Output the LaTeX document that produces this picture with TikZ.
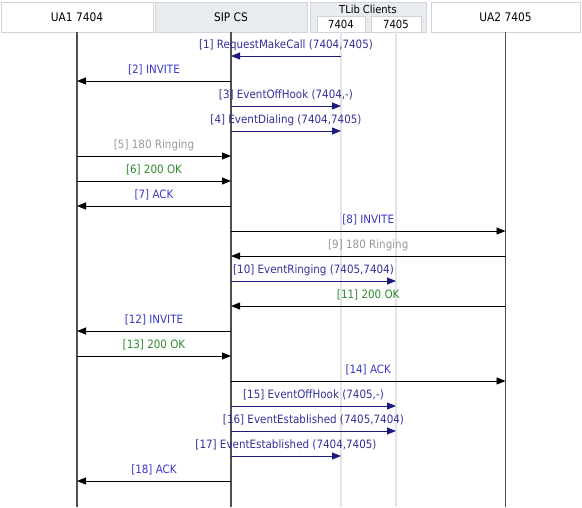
\documentclass[tikz,border=0pt]{standalone}
\usepackage{fontspec}
\setmainfont{DejaVu Sans}[FakeStretch=0.9]
\usetikzlibrary{arrows.meta}

\definecolor{boxline}{HTML}{D2D4D8}
\definecolor{sipfill}{HTML}{E8EBEF}
\definecolor{lifegray}{HTML}{505050}
\definecolor{tlibgray}{HTML}{E4E4E6}
\definecolor{evline}{HTML}{1C1C7E}
\definecolor{evtxt}{HTML}{30309C}
\definecolor{msgtxt}{HTML}{3838CC}
\definecolor{ringtxt}{HTML}{989898}
\definecolor{oktxt}{HTML}{2E8A2E}

\tikzset{
  hdr/.style={draw=boxline, minimum height=30pt, inner sep=0pt,
    font=\fontsize{11.8}{13}\selectfont},
  subhdr/.style={draw=boxline, fill=white, minimum height=16pt, inner sep=0pt,
    font=\fontsize{11.2}{12}\selectfont},
  life/.style={draw=lifegray, line width=1.1pt},
  tlife/.style={draw=tlibgray, line width=2pt},
  sipmsg/.style={draw=black, line width=0.8pt, -{Triangle[length=9pt,width=7pt]}},
  evmsg/.style={draw=evline, line width=0.8pt, -{Triangle[length=9pt,width=7pt]}},
  lbl/.style={above=4pt, inner sep=1pt, text height=9pt, text depth=2.5pt,
    font=\fontsize{11.5}{13}\selectfont},
}

\begin{document}
\begin{tikzpicture}[x=1pt, y=-1pt]
  \useasboundingbox (0,0) rectangle (582,507);

  % header boxes
  \node[hdr, fill=white, minimum width=152pt] (ua1) at (77,17) {UA1 7404};
  \node[hdr, fill=sipfill, minimum width=152pt] (sip) at (231,17) {SIP CS};
  \node[hdr, fill=sipfill, minimum width=116pt] (tlib) at (368,17) {};
  \node[font=\fontsize{11}{12}\selectfont, inner sep=0pt] (tlibname) at (368,9) {TLib Clients};
  \node[subhdr, minimum width=48pt] (t4) at (341,24) {7404};
  \node[subhdr, minimum width=50pt] (t5) at (396,24) {7405};
  \node[hdr, fill=white, minimum width=149pt] (ua2) at (505.5,17) {UA2 7405};

  % lifelines
  \coordinate (t4-end) at (t4.south |- 0,507);
  \coordinate (t5-end) at (t5.south |- 0,507);
  \draw[tlife] (t4.south) -- (t4-end);
  \draw[tlife] (t5.south) -- (t5-end);
  \coordinate (ua1-end) at (ua1.south |- 0,507);
  \coordinate (sip-end) at (sip.south |- 0,507);
  \coordinate (ua2-end) at (ua2.south |- 0,507);
  \draw[life] (ua1.south) -- (ua1-end);
  \draw[life] (sip.south) -- (sip-end);
  \draw[life] (ua2.south) -- (ua2-end);

  % messages
  \foreach \y/\src/\dst/\kind/\tc/\txt [count=\i] in {
      56/t4/sip/evmsg/evtxt/{[1] RequestMakeCall (7404,7405)},
      81/sip/ua1/sipmsg/msgtxt/{[2] INVITE},
      106/sip/t4/evmsg/evtxt/{[3] EventOffHook (7404,-)},
      131/sip/t4/evmsg/evtxt/{[4] EventDialing (7404,7405)},
      156/ua1/sip/sipmsg/ringtxt/{[5] 180 Ringing},
      181/ua1/sip/sipmsg/oktxt/{[6] 200 OK},
      206/sip/ua1/sipmsg/msgtxt/{[7] ACK},
      231/sip/ua2/sipmsg/msgtxt/{[8] INVITE},
      256/ua2/sip/sipmsg/ringtxt/{[9] 180 Ringing},
      281/sip/t5/evmsg/evtxt/{[10] EventRinging (7405,7404)},
      306/ua2/sip/sipmsg/oktxt/{[11] 200 OK},
      331/sip/ua1/sipmsg/msgtxt/{[12] INVITE},
      356/ua1/sip/sipmsg/oktxt/{[13] 200 OK},
      381/sip/ua2/sipmsg/msgtxt/{[14] ACK},
      406/sip/t5/evmsg/evtxt/{[15] EventOffHook (7405,-)},
      431/sip/t5/evmsg/evtxt/{[16] EventEstablished (7405,7404)},
      456/sip/t4/evmsg/evtxt/{[17] EventEstablished (7404,7405)},
      481/sip/ua1/sipmsg/msgtxt/{[18] ACK}} {
    \coordinate (m\i-a) at (\src.south |- 0,\y);
    \coordinate (m\i-b) at (\dst.south |- 0,\y);
    \draw[\kind] (m\i-a) -- (m\i-b) node[midway, lbl, text=\tc] {\txt};
  }
\end{tikzpicture}
\end{document}
